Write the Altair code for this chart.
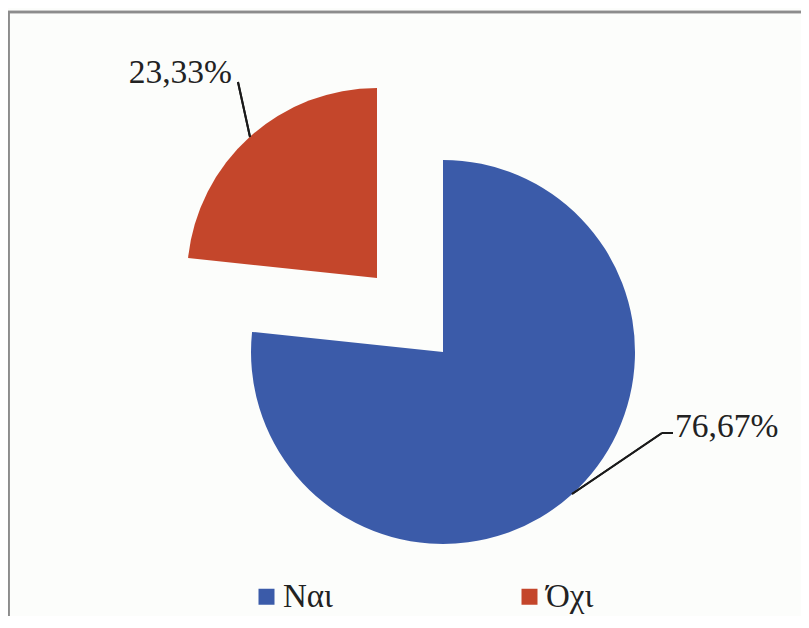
import math
import altair as alt
import pandas as pd

categories = ["Ναι", "Όχι"]
values = [76.67, 23.33]
labels = ["76,67%", "23,33%"]
colors = ["#3b5ba9", "#c4462b"]
order = [0, 1]

df = pd.DataFrame({"cat": categories, "val": values, "label": labels, "order": order})

W, H = 793, 608
FONT = "Liberation Serif"

base = alt.Chart(df).transform_window(
    end="sum(val)", sort=[alt.SortField("order")], frame=[None, 0]
).transform_calculate(start="datum.end - datum.val")

theta_scale = alt.Scale(domain=[0, 100], range=[0, 2 * math.pi])
color_enc = alt.Color(
    "cat:N",
    scale=alt.Scale(domain=categories, range=colors),
    sort=categories,
    legend=alt.Legend(
        title=None,
        orient="none",
        direction="horizontal",
        legendX=242,
        legendY=572,
        symbolType="square",
        symbolSize=256,
        symbolStrokeWidth=0,
        labelFont=FONT,
        labelFontSize=33,
        labelColor="#222222",
        labelOffset=0,
        columnPadding=180,
        padding=0,
    ),
)

blue = base.transform_filter(alt.datum.cat == "Ναι").mark_arc(radius=192).encode(
    theta=alt.Theta("start:Q", scale=theta_scale, stack=None),
    theta2="end:Q",
    color=color_enc,
    x=alt.value(435),
    y=alt.value(344),
)

red = base.transform_filter(alt.datum.cat == "Όχι").mark_arc(radius=190).encode(
    theta=alt.Theta("start:Q", scale=theta_scale, stack=None),
    theta2="end:Q",
    color=color_enc,
    x=alt.value(369),
    y=alt.value(270),
)

red_label = base.transform_filter(alt.datum.cat == "Όχι").mark_text(
    font=FONT, fontSize=33.5, align="right", baseline="alphabetic", color="#222222"
).encode(text="label:N", x=alt.value(224), y=alt.value(75))

blue_label = base.transform_filter(alt.datum.cat == "Ναι").mark_text(
    font=FONT, fontSize=33.5, align="left", baseline="alphabetic", color="#222222"
).encode(text="label:N", x=alt.value(667), y=alt.value(429))

line_style = dict(color="#1a1a1a", strokeWidth=2)
lead1 = alt.Chart(df).mark_rule(**line_style).encode(
    x=alt.value(230), x2=alt.value(242), y=alt.value(74), y2=alt.value(129)
)
lead2 = alt.Chart(df).mark_rule(**line_style).encode(
    x=alt.value(665), x2=alt.value(654), y=alt.value(425), y2=alt.value(425)
)
lead3 = alt.Chart(df).mark_rule(**line_style).encode(
    x=alt.value(654), x2=alt.value(564), y=alt.value(425), y2=alt.value(486)
)

border_style = dict(color="#8c8c8c", strokeWidth=2.5)
top_border = alt.Chart(df).mark_rule(**border_style).encode(
    x=alt.value(0), x2=alt.value(W), y=alt.value(4), y2=alt.value(4)
)
left_border = alt.Chart(df).mark_rule(**border_style).encode(
    x=alt.value(0.5), x2=alt.value(0.5), y=alt.value(4), y2=alt.value(H)
)

chart = alt.layer(
    blue, red, red_label, blue_label, lead1, lead2, lead3, top_border, left_border
).properties(
    width=W, height=H, padding=0, autosize=alt.AutoSizeParams(type="none"),
    background="#fcfdfb",
).configure_view(stroke=None)

chart.save("out.html", embed_options={"renderer": "svg", "actions": False})
